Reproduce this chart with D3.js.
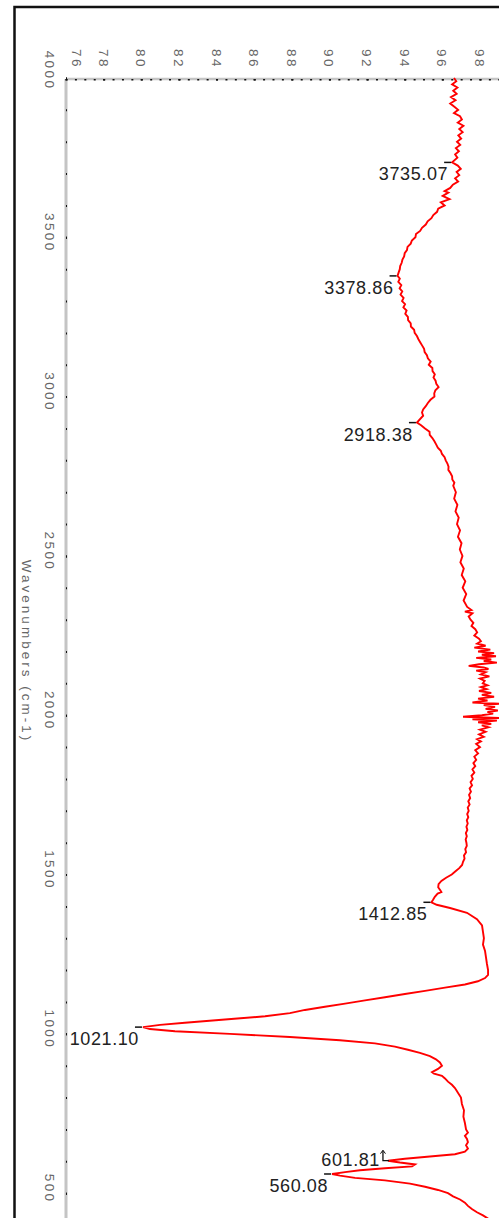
<!DOCTYPE html>
<html>
<head>
<meta charset="utf-8">
<script src="https://cdn.jsdelivr.net/npm/d3@7"></script>
<style>
  html, body { margin: 0; padding: 0; background: #fff; }
  svg { display: block; }
  text { font-family: "Liberation Sans", Arial, sans-serif; }
</style>
</head>
<body>
<svg id="chart" width="499" height="1218"></svg>
<script>
// FTIR spectrum, [wavenumber cm-1, %T], split by region
const ohRegion = [
  [4000, 96.62], [3990, 96.74], [3980, 96.52], [3970, 96.80], [3960, 96.58], [3950, 96.76],
  [3940, 96.46], [3930, 96.70], [3920, 96.42], [3910, 96.64], [3900, 96.84], [3890, 96.62],
  [3880, 96.94], [3870, 97.04], [3860, 96.82], [3850, 97.12], [3840, 96.90], [3830, 97.08],
  [3820, 96.85], [3810, 97.00], [3800, 96.78], [3790, 96.95], [3780, 96.72], [3770, 96.88],
  [3760, 96.68], [3750, 96.80], [3735.07, 96.52], [3725, 96.82], [3715, 96.98], [3705, 96.76],
  [3695, 96.90], [3685, 96.68], [3675, 96.84], [3665, 96.56], [3655, 96.42], [3645, 96.12],
  [3640, 96.32], [3630, 96.02], [3620, 96.38], [3610, 95.92], [3600, 96.12], [3590, 95.78],
  [3580, 95.72], [3570, 95.52], [3560, 95.42], [3550, 95.22], [3540, 95.12], [3530, 94.92],
  [3520, 94.82], [3510, 94.60], [3500, 94.57], [3490, 94.38], [3480, 94.32], [3470, 94.15],
  [3460, 94.12], [3450, 94.00], [3440, 93.97], [3430, 93.88], [3420, 93.84], [3410, 93.76],
  [3400, 93.74], [3390, 93.68], [3378.86, 93.62], [3370, 93.74], [3360, 93.66], [3350, 93.82],
  [3340, 93.73], [3330, 93.87], [3320, 93.78], [3310, 93.94], [3300, 93.86], [3290, 94.02],
  [3280, 93.93], [3270, 94.10], [3260, 94.03], [3250, 94.17], [3240, 94.18], [3230, 94.32],
  [3220, 94.33], [3210, 94.50], [3200, 94.53], [3190, 94.65], [3180, 94.73], [3170, 94.83],
  [3160, 94.93], [3150, 95.03], [3140, 95.06], [3130, 95.18], [3120, 95.23], [3110, 95.38],
  [3100, 95.28], [3090, 95.47], [3080, 95.48], [3070, 95.60], [3060, 95.53], [3050, 95.64],
  [3040, 95.68], [3030, 95.80]
];

const chRegion = [
  [3020, 95.63], [3010, 95.57], [3000, 95.58], [2990, 95.37], [2980, 95.23], [2970, 95.12],
  [2960, 94.98], [2950, 94.92], [2940, 94.98], [2918.38, 94.65], [2910, 94.87], [2900, 95.08],
  [2890, 95.32], [2880, 95.33], [2870, 95.47], [2860, 95.58], [2850, 95.67], [2840, 95.76],
  [2830, 95.92], [2820, 95.98], [2810, 96.12], [2800, 96.18], [2790, 96.27], [2780, 96.33],
  [2770, 96.32], [2760, 96.43], [2750, 96.52], [2740, 96.53], [2730, 96.64], [2720, 96.58],
  [2700, 96.72], [2680, 96.63], [2660, 96.80], [2640, 96.70], [2620, 96.87], [2600, 96.78],
  [2580, 96.94], [2560, 96.83], [2540, 97.02], [2520, 96.93], [2500, 97.07], [2480, 96.96],
  [2460, 97.14], [2440, 97.03], [2420, 97.22], [2400, 97.08], [2380, 97.27], [2360, 97.13],
  [2340, 97.32]
];

const noiseRegion = [
  [2330, 97.55], [2325, 97.20], [2320, 97.60], [2310, 97.40], [2300, 97.50], [2290, 97.65],
  [2280, 97.55], [2270, 97.75], [2260, 97.85], [2250, 97.70], [2240, 97.95], [2232, 98.05],
  [2225, 97.85], [2218, 98.30], [2212, 97.70], [2206, 98.55], [2200, 97.90], [2195, 98.75],
  [2190, 98.10], [2185, 98.85], [2180, 97.80], [2175, 98.60], [2170, 98.20], [2165, 98.90],
  [2160, 97.95], [2155, 97.40], [2150, 98.20], [2145, 98.45], [2140, 97.80], [2135, 98.30],
  [2128, 98.05], [2122, 98.50], [2115, 98.00], [2108, 98.25], [2100, 98.15], [2094, 98.40],
  [2088, 98.05], [2082, 98.35], [2076, 97.95], [2070, 98.60], [2064, 98.10], [2058, 98.75],
  [2052, 97.90], [2046, 98.40], [2040, 97.60], [2036, 99.10], [2032, 98.20], [2026, 98.80],
  [2020, 98.30], [2015, 98.95], [2010, 98.40], [2005, 98.70], [2000, 98.10], [1995, 97.10],
  [1991, 99.10], [1987, 97.60], [1983, 98.90], [1978, 97.90], [1973, 98.60], [1968, 98.10],
  [1962, 98.45], [1955, 98.00], [1948, 98.30], [1940, 97.95], [1932, 98.20], [1925, 97.85],
  [1918, 98.05], [1910, 97.80], [1900, 98.00], [1890, 97.75], [1880, 97.90], [1870, 97.70],
  [1860, 97.80], [1850, 97.65]
];

const carbonateRegion = [
  [1840, 97.75], [1830, 97.60], [1820, 97.70], [1810, 97.55], [1800, 97.62], [1790, 97.50],
  [1780, 97.58], [1770, 97.45], [1760, 97.52], [1750, 97.42], [1740, 97.48], [1730, 97.38],
  [1720, 97.45], [1710, 97.35], [1700, 97.40], [1690, 97.32], [1680, 97.38], [1670, 97.30],
  [1660, 97.35], [1650, 97.28], [1640, 97.33], [1630, 97.25], [1620, 97.30], [1610, 97.24],
  [1600, 97.28], [1590, 97.30], [1580, 97.22], [1570, 97.26], [1560, 97.15], [1550, 97.18],
  [1540, 97.10], [1530, 97.05], [1520, 96.90], [1510, 96.70], [1500, 96.50], [1490, 96.20],
  [1480, 95.95], [1470, 95.80], [1460, 95.78], [1450, 95.90], [1445, 95.95], [1440, 95.75],
  [1430, 95.60], [1420, 95.50], [1412.85, 95.42], [1405, 95.70], [1395, 96.41], [1380, 97.31],
  [1360, 97.84], [1340, 98.11], [1320, 98.16], [1300, 98.21], [1280, 98.16], [1260, 98.27],
  [1240, 98.32], [1220, 98.37], [1200, 98.43], [1185, 98.43], [1175, 98.27], [1165, 97.89]
];

const fingerprintRegion = [
  [1155, 97.20], [1145, 96.14], [1135, 95.08], [1125, 94.01], [1115, 92.95], [1105, 91.89],
  [1095, 90.83], [1085, 89.76], [1075, 88.70], [1065, 87.90], [1055, 86.58], [1045, 84.45],
  [1035, 82.32], [1028, 81.00], [1021.10, 80.09], [1015, 80.46], [1008, 81.79], [1000, 84.71],
  [990, 87.90], [980, 90.56], [970, 92.42], [960, 93.48], [950, 94.17], [940, 94.81],
  [930, 95.34], [920, 95.66], [910, 95.87], [900, 95.98], [890, 95.77], [880, 95.45],
  [875, 95.56], [868, 95.98], [860, 96.14], [850, 96.30], [840, 96.51], [830, 96.67],
  [820, 96.78], [810, 96.88], [800, 96.99], [780, 97.04], [760, 97.15], [740, 97.12],
  [720, 97.20], [700, 97.26], [690, 97.36], [680, 97.20], [670, 97.31], [660, 97.36],
  [650, 97.26], [640, 97.36], [630, 97.20], [622, 96.67], [615, 95.34], [608, 94.01],
  [601.81, 93.11], [596, 93.75], [590, 94.55], [584, 94.39], [578, 92.95], [572, 91.62],
  [566, 90.83], [560.08, 90.14], [555, 90.56], [548, 91.36], [540, 92.95], [530, 94.28],
  [520, 95.08], [510, 95.77], [500, 96.30], [490, 96.57], [480, 96.94], [470, 97.20],
  [460, 97.36], [450, 97.57], [440, 97.84], [430, 98.16], [420, 98.43], [410, 98.69],
  [400, 98.90]
];

// Labelled absorption bands (cm-1)
const peaks = [3735.07, 3378.86, 2918.38, 1412.85, 1021.10, 601.81, 560.08];

// Axis ticks
const wavenumberTicks = [4000, 3500, 3000, 2500, 2000, 1500, 1000, 500];
const transmittanceTicks = [76, 78, 80, 82, 84, 86, 88, 90, 92, 94, 96, 98];
const axisTitle = "Wavenumbers (cm-1)";

const spectrum = [].concat(ohRegion, chRegion, noiseRegion, carbonateRegion, fingerprintRegion);

const svg = d3.select("#chart");

// Wavenumber runs down the page, transmittance across it
const y = d3.scaleLinear().domain([4000, 400]).range([78, 1225]);
const x = d3.scaleLinear().domain([76, 100]).range([66, 517.6]);

// Outer frame
svg.append("rect")
  .attr("x", 14.5).attr("y", 7)
  .attr("width", 620).attr("height", 1320)
  .attr("fill", "none").attr("stroke", "#111").attr("stroke-width", 2.5);

// Axis base lines (light grey bars)
svg.append("line")
  .attr("x1", 66).attr("x2", 520).attr("y1", 79).attr("y2", 79)
  .attr("stroke", "#c4c4c4").attr("stroke-width", 2.5);
svg.append("line")
  .attr("x1", 66).attr("x2", 66).attr("y1", 79).attr("y2", 1230)
  .attr("stroke", "#c4c4c4").attr("stroke-width", 3);

const labelStyle = sel => sel
  .attr("fill", "#666")
  .style("font-size", "13.5px")
  .style("letter-spacing", "2.4px");

// Wavenumber axis: minor dots every 100, labelled major ticks every 500
const wnMinor = svg.append("g").attr("transform", "translate(66,0)")
  .call(d3.axisLeft(y).tickValues(d3.range(4000, 399, -100)).tickSize(1.5).tickFormat(""));
wnMinor.select(".domain").remove();
wnMinor.selectAll(".tick line").attr("stroke", "#111").attr("stroke-width", 2).attr("x2", 1);

const wnAxis = svg.append("g").attr("transform", "translate(66,0)")
  .call(d3.axisLeft(y).tickValues(wavenumberTicks).tickSize(3).tickFormat(d3.format("d")));
wnAxis.select(".domain").remove();
wnAxis.selectAll(".tick line").attr("stroke", "#111").attr("stroke-width", 2).attr("x2", 1);
wnAxis.selectAll(".tick text")
  .attr("x", null).attr("dy", null)
  .attr("text-anchor", "middle")
  .attr("dominant-baseline", "central")
  .attr("transform", d => `translate(-17,${d === 4000 ? -8 : -5}) rotate(90)`)
  .call(labelStyle);

// Transmittance axis along the top edge
const tMinor = svg.append("g").attr("transform", "translate(0,79)")
  .call(d3.axisTop(x).tickValues(d3.range(76, 100.01, 0.5)).tickSize(1.5).tickFormat(""));
tMinor.select(".domain").remove();
tMinor.selectAll(".tick line").attr("stroke", "#111").attr("stroke-width", 2).attr("y2", 1.5);

const tAxis = svg.append("g").attr("transform", "translate(0,79)")
  .call(d3.axisTop(x).tickValues(transmittanceTicks).tickSize(3.5).tickFormat(d3.format("d")));
tAxis.select(".domain").remove();
tAxis.selectAll(".tick line").attr("stroke", "#111").attr("stroke-width", 2).attr("y2", 1.5);
tAxis.selectAll(".tick text")
  .attr("y", null).attr("dy", null)
  .attr("text-anchor", "middle")
  .attr("dominant-baseline", "central")
  .attr("transform", d => `translate(${d === 76 ? 10 : -1},-20) rotate(90)`)
  .call(labelStyle);

// Axis title
svg.append("text")
  .attr("transform", `translate(26,${(y(4000) + y(400)) / 2}) rotate(90)`)
  .attr("text-anchor", "middle")
  .attr("dominant-baseline", "central")
  .text(axisTitle)
  .attr("fill", "#666")
  .style("font-size", "13.5px")
  .style("letter-spacing", "3px");

// Spectrum trace
const line = d3.line()
  .x(d => x(d[1]))
  .y(d => y(d[0]));

svg.append("path")
  .datum(spectrum)
  .attr("d", line)
  .attr("fill", "none")
  .attr("stroke", "#ff0000")
  .attr("stroke-width", 1.9)
  .attr("stroke-linejoin", "miter");

// Peak markers and labels
const peakLayer = svg.append("g");
peaks.forEach((p, i) => {
  const pt = spectrum.find(d => d[0] === p);
  const px = x(pt[1]);
  const py = y(p);
  const next = peaks[i + 1];
  const crowded = next !== undefined && p - next < 60;
  const txt = peakLayer.append("text")
    .attr("text-anchor", "end")
    .attr("dominant-baseline", "central")
    .attr("fill", "#222")
    .style("font-size", "18px")
    .style("letter-spacing", "0.6px")
    .text(p.toFixed(2));
  if (crowded) {
    peakLayer.append("path")
      .attr("d", `M${px - 5},${py - 10} L${px - 5},${py} L${px + 1},${py}`)
      .attr("fill", "none").attr("stroke", "#111").attr("stroke-width", 1.3);
    peakLayer.append("path")
      .attr("d", `M${px - 7.5},${py - 7} L${px - 5},${py - 10.5} L${px - 2.5},${py - 7}`)
      .attr("fill", "none").attr("stroke", "#111").attr("stroke-width", 1);
    txt.attr("x", px - 8).attr("y", py - 1);
  } else {
    peakLayer.append("line")
      .attr("x1", px - 8).attr("x2", px - 1)
      .attr("y1", py).attr("y2", py)
      .attr("stroke", "#111").attr("stroke-width", 1.5);
    txt.attr("x", px - 4).attr("y", py + 12);
  }
});
</script>
</body>
</html>
